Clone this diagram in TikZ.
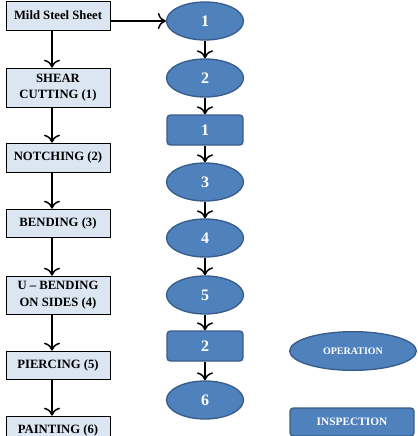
\documentclass[tikz,border=0pt]{standalone}
\usepackage{fontspec}
\setmainfont{Liberation Serif}
\usetikzlibrary{positioning}
\usetikzlibrary{arrows.meta}
\usetikzlibrary{shapes.geometric}
\definecolor{stepfill}{HTML}{DCE6F2}
\definecolor{opfill}{HTML}{4F81BD}
\definecolor{opline}{HTML}{385D8A}
\tikzset{
  procbox/.style={draw=black, line width=0.5pt, fill=stepfill, minimum width=78pt,
    inner sep=1pt, align=center, font=\bfseries\fontsize{9.5}{12.5}\selectfont},
  opnode/.style={ellipse, draw=opline, line width=1pt, fill=opfill, text=white,
    minimum width=57.75pt, minimum height=28.5pt, inner sep=0pt,
    font=\bfseries\fontsize{12}{13}\selectfont},
  insnode/.style={rectangle, rounded corners=2.5pt, draw=opline, line width=1pt,
    fill=opfill, text=white, minimum width=57pt, minimum height=22.5pt, inner sep=0pt,
    font=\bfseries\fontsize{12}{13}\selectfont},
  flow/.style={-{>[scale=2,length=3,width=6]}, line width=1.1pt}
}
\begin{document}
\begin{tikzpicture}[x=0.75pt,y=-0.75pt]
            \clip (0,0) rectangle (418,436) ;
            % process steps
            \node at (58, 15.5) [procbox, minimum height=21.75pt] (nsheet) {Mild Steel Sheet} ;
            \node at (58, 87.5) [procbox, minimum height=29.25pt] (nshear) {SHEAR\\CUTTING (1)} ;
            \node at (58,157.5) [procbox, minimum height=21.75pt] (nnotch) {NOTCHING (2)} ;
            \node at (58,223.0) [procbox, minimum height=21pt]    (nbend)  {BENDING (3)} ;
            \node at (58,295.0) [procbox, minimum height=28.5pt]  (nubend) {U -- BENDING\\ON SIDES (4)} ;
            \node at (58,365.0) [procbox, minimum height=21pt]    (npierc) {PIERCING (5)} ;
            \node at (58,430.0) [procbox, minimum height=21pt]    (npaint) {PAINTING (6)} ;
            % operations and inspections
            \node at (205, 21) [opnode]  (nop1)  {1} ;
            \node at (205, 78) [opnode]  (nop2)  {2} ;
            \node at (205,130) [insnode] (nins1) {1} ;
            \node at (205,182) [opnode]  (nop3)  {3} ;
            \node at (205,238) [opnode]  (nop4)  {4} ;
            \node at (205,295) [opnode]  (nop5)  {5} ;
            \node at (205,346) [insnode] (nins2) {2} ;
            \node at (205,400) [opnode]  (nop6)  {6} ;
            % legend
            \node at (353,351) [opnode, minimum width=95pt, minimum height=29pt,
                  font=\bfseries\fontsize{7.5}{9}\selectfont] (nkeyop) {OPERATION} ;
            \node at (352,422) [insnode, minimum width=93pt, minimum height=21pt,
                  font=\bfseries\fontsize{8.5}{10}\selectfont] (nkeyins) {INSPECTION} ;
            % arrows down the process steps
            \draw[flow] ([xshift=-4.5pt]nsheet.south) -- ([xshift=-4.5pt]nshear.north) ;
            \draw[flow] ([xshift=-4.5pt]nshear.south) -- ([xshift=-4.5pt]nnotch.north) ;
            \draw[flow] ([xshift=-4.5pt]nnotch.south) -- ([xshift=-4.5pt]nbend.north) ;
            \draw[flow] ([xshift=-4.5pt]nbend.south)  -- ([xshift=-4.5pt]nubend.north) ;
            \draw[flow] ([xshift=-4.5pt]nubend.south) -- ([xshift=-4.5pt]npierc.north) ;
            \draw[flow] ([xshift=-4.5pt]npierc.south) -- ([xshift=-4.5pt]npaint.north) ;
            % arrow from sheet to first operation
            \draw[flow] (nsheet.east |- nop1.west) -- (nop1.west) ;
            % arrows down the operations
            \draw[flow] (nop1.south)  -- (nop2.north) ;
            \draw[flow] (nop2.south)  -- (nins1.north) ;
            \draw[flow] (nins1.south) -- (nop3.north) ;
            \draw[flow] (nop3.south)  -- (nop4.north) ;
            \draw[flow] (nop4.south)  -- (nop5.north) ;
            \draw[flow] (nop5.south)  -- (nins2.north) ;
            \draw[flow] (nins2.south) -- (nop6.north) ;
        \end{tikzpicture}
\end{document}
